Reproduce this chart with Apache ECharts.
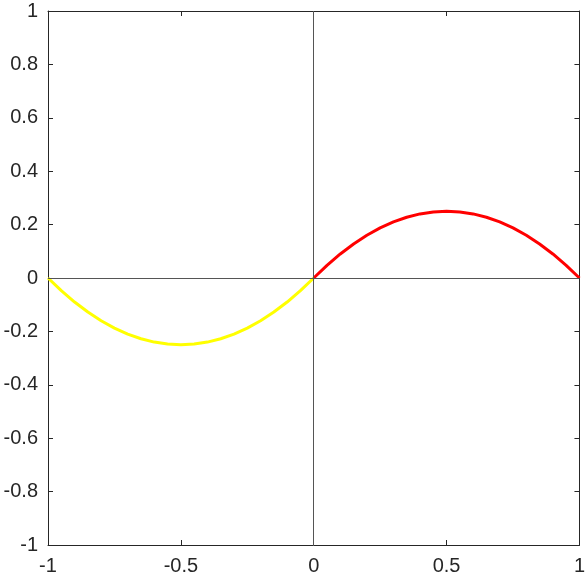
<!DOCTYPE html>
<html><head><meta charset="utf-8">
<script src="https://cdn.jsdelivr.net/npm/echarts@6/dist/echarts.min.js"></script>
<style>html,body{margin:0;padding:0;background:#fff}#c{width:588px;height:579px}</style>
</head><body><div id="c"></div>
<script>
const xLeft = [-1,-0.95,-0.9,-0.85,-0.8,-0.75,-0.7,-0.65,-0.6,-0.55,-0.5,-0.45,-0.4,-0.35,-0.3,-0.25,-0.2,-0.15,-0.1,-0.05,0];
const yLeft = [0,-0.0475,-0.09,-0.1275,-0.16,-0.1875,-0.21,-0.2275,-0.24,-0.2475,-0.25,-0.2475,-0.24,-0.2275,-0.21,-0.1875,-0.16,-0.1275,-0.09,-0.0475,0];
const xRight = [0,0.05,0.1,0.15,0.2,0.25,0.3,0.35,0.4,0.45,0.5,0.55,0.6,0.65,0.7,0.75,0.8,0.85,0.9,0.95,1];
const yRight = [0,0.0475,0.09,0.1275,0.16,0.1875,0.21,0.2275,0.24,0.2475,0.25,0.2475,0.24,0.2275,0.21,0.1875,0.16,0.1275,0.09,0.0475,0];
const xTicks = [-1,-0.5,0,0.5,1];
const yTicks = [-1,-0.8,-0.6,-0.4,-0.2,0,0.2,0.4,0.6,0.8,1];

const txt = '#262626';
const font = {color: txt, fontSize: 20, fontFamily: 'Liberation Sans, Arial, sans-serif'};
const axLine = {show: true, onZero: false, lineStyle: {color: txt, width: 1}};
const tick = {show: true, inside: true, length: 5, lineStyle: {color: txt, width: 1}};

const chart = echarts.init(document.getElementById('c'), null, {renderer: 'canvas'});
chart.setOption({
  animation: false,
  grid: {left: 48, right: 6, top: 11, bottom: 34, containLabel: false},
  xAxis: [
    {type: 'value', min: -1, max: 1, interval: 0.5, position: 'bottom',
     axisLine: axLine, axisTick: tick, splitLine: {show: false},
     axisLabel: Object.assign({margin: 11, formatter: v => String(v)}, font)},
    {type: 'value', min: -1, max: 1, interval: 0.5, position: 'top',
     axisLine: axLine, axisTick: tick, splitLine: {show: false}, axisLabel: {show: false}}
  ],
  yAxis: [
    {type: 'value', min: -1, max: 1, interval: 0.2, position: 'left',
     axisLine: axLine, axisTick: tick, splitLine: {show: false},
     axisLabel: Object.assign({margin: 10, formatter: v => String(Math.round(v*10)/10)}, font)},
    {type: 'value', min: -1, max: 1, interval: 0.2, position: 'right',
     axisLine: axLine, axisTick: tick, splitLine: {show: false}, axisLabel: {show: false}}
  ],
  series: [
    {type: 'line', data: [], silent: true,
     markLine: {symbol: ['none','none'], silent: true, label: {show: false},
       lineStyle: {color: '#555555', width: 1, type: 'solid'},
       data: [{xAxis: 0}, {yAxis: 0}]}},
    {type: 'line', data: xLeft.map((x,i)=>[x,yLeft[i]]), showSymbol: false, smooth: false,
     lineStyle: {color: '#ffff00', width: 3}, itemStyle: {color: '#ffff00'}, z: 3},
    {type: 'line', data: xRight.map((x,i)=>[x,yRight[i]]), showSymbol: false, smooth: false,
     lineStyle: {color: '#ff0000', width: 3}, itemStyle: {color: '#ff0000'}, z: 3}
  ]
});
</script></body></html>
